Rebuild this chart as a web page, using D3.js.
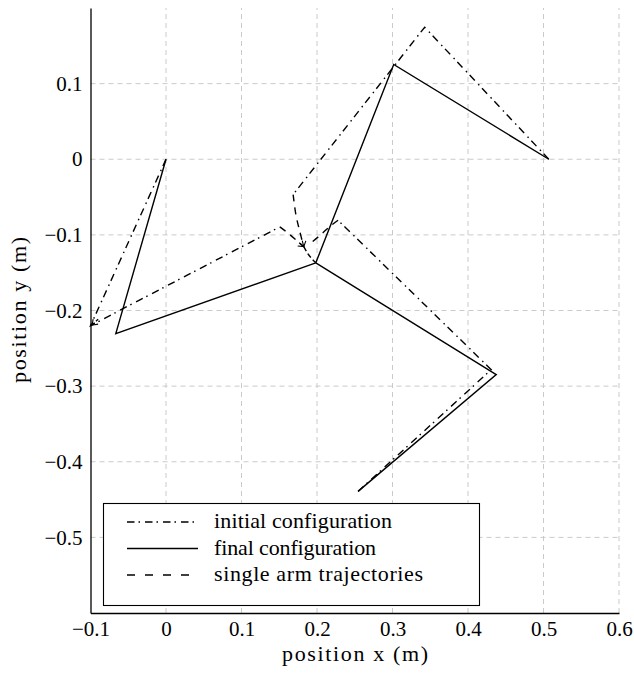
<!DOCTYPE html>
<meta charset="utf-8">
<html>
<head><title>Arm configurations</title></head>
<style>
body { margin: 0; background: #fff; }
text { font-family: "Liberation Serif", "DejaVu Serif", serif; fill: #000; }
</style>
<body>
<svg id="chart" width="634" height="673"></svg>
<script src="https://d3js.org/d3.v7.min.js"></script>
<script>

// arm bases and joints (m)
var bases = [[0, 0], [0.507, 0], [0.2544, -0.4392]];
var initialElbows = [[-0.0999, -0.22], [0.3426, 0.1746], [0.4308, -0.2782]];
var initialEnds = [[0.1508, -0.0894], [0.1684, -0.0467], [0.2279, -0.0807]];
var finalElbows = [[-0.0665, -0.2306], [0.3016, 0.1253], [0.4374, -0.2847]];
var finalEnd = [0.1984, -0.137];

// end effector paths, up to the arrow
var traj1 = [[0.1508, -0.0894], [0.1640, -0.0996], [0.1746, -0.1088], [0.1825, -0.1155]];
var traj2 = [[0.1684, -0.0467], [0.1720, -0.0731], [0.1772, -0.0956], [0.1825, -0.1155]];
var traj3 = [[0.2279, -0.0807], [0.2169, -0.0890], [0.2037, -0.1009], [0.1892, -0.1128]];
// common last bit into the final grasp point
var trajJoin = [[0.1825, -0.1155], [0.1878, -0.1247], [0.1931, -0.1314], [0.1984, -0.137]];
// little arrow at the first elbow
var elbowArrow = [[-0.0899, -0.2114], [-0.0979, -0.2194]];

var xTicks = [-0.1, 0, 0.1, 0.2, 0.3, 0.4, 0.5, 0.6];
var yTicks = [-0.5, -0.4, -0.3, -0.2, -0.1, 0, 0.1];
var legendLabels = ["initial configuration", "final configuration", "single arm trajectories"];
var legendWidths = [178, 162, 209];
var legendDash = ["7.5,4,1.5,5", null, "8,10"];

var svg = d3.select("#chart");

var x = d3.scaleLinear().domain([-0.1, 0.6]).range([90.5, 619]);
var y = d3.scaleLinear().domain([-0.6, 0.2]).range([613, 8]);

var fmt = function(d) {
  if (d === 0) return "0";
  return (d < 0 ? "\u2212" : "") + Math.abs(d).toFixed(1);
};

// grid
var grid = svg.append("g").attr("stroke", "#cacaca").attr("stroke-width", 1)
  .attr("stroke-dasharray", "5,4");
grid.selectAll("line.v").data(xTicks.slice(1)).enter().append("line")
  .attr("x1", d => x(d)).attr("x2", d => x(d))
  .attr("y1", y(-0.6)).attr("y2", y(0.2));
grid.selectAll("line.h").data(yTicks).enter().append("line")
  .attr("y1", d => y(d)).attr("y2", d => y(d))
  .attr("x1", x(-0.1)).attr("x2", x(0.6));

// axes
var xAxis = d3.axisBottom(x).tickValues(xTicks).tickFormat(fmt).tickSize(0).tickPadding(8);
var yAxis = d3.axisLeft(y).tickValues(yTicks).tickFormat(fmt).tickSize(0).tickPadding(8);

var gx = svg.append("g").attr("transform", "translate(0," + y(-0.6) + ")").call(xAxis);
var gy = svg.append("g").attr("transform", "translate(" + x(-0.1) + ",0)").call(yAxis);
[gx, gy].forEach(function(g) {
  g.attr("font-family", null);
  g.select(".domain").attr("stroke", "#000").attr("stroke-width", 1.3);
  g.selectAll("text").attr("font-size", 21).attr("fill", "#000");
});

svg.append("text").attr("x", 355).attr("y", 661).attr("text-anchor", "middle")
  .attr("font-size", 22).attr("textLength", 146).attr("lengthAdjust", "spacing")
  .text("position x (m)");
svg.append("text").attr("transform", "translate(26,310) rotate(-90)").attr("text-anchor", "middle")
  .attr("font-size", 22).attr("textLength", 146).attr("lengthAdjust", "spacing")
  .text("position y (m)");

// arrow head
svg.append("defs").append("marker")
  .attr("id", "arr").attr("markerUnits", "userSpaceOnUse")
  .attr("viewBox", "-6 -5 8 10").attr("refX", 0).attr("refY", 0)
  .attr("markerWidth", 8).attr("markerHeight", 10).attr("orient", "auto")
  .append("path").attr("d", "M-5,-3.5 L0,0 L-5,3.5")
  .attr("fill", "none").attr("stroke", "#000").attr("stroke-width", 1.1);

var line = d3.line().x(d => x(d[0])).y(d => y(d[1]));
var smooth = d3.line().x(d => x(d[0])).y(d => y(d[1])).curve(d3.curveCatmullRom);

var arms = svg.append("g").attr("fill", "none").attr("stroke", "#000").attr("stroke-width", 1.4);

// initial configuration
bases.forEach(function(b, i) {
  arms.append("path").attr("d", line([b, initialElbows[i], initialEnds[i]]))
    .attr("stroke-dasharray", legendDash[0]);
});

// final configuration
bases.forEach(function(b, i) {
  arms.append("path").attr("d", line([b, finalElbows[i], finalEnd]));
});

// trajectories
[traj1, traj2, traj3].forEach(function(t, i) {
  arms.append("path").attr("d", smooth(t))
    .attr("stroke-dasharray", "7,6")
    .attr("marker-end", i < 2 ? "url(#arr)" : null);
});
arms.append("path").attr("d", smooth(trajJoin)).attr("stroke-dasharray", "5,3");
arms.append("path").attr("d", line(elbowArrow)).attr("stroke-dasharray", "3,2")
  .attr("marker-end", "url(#arr)");

// legend
var lg = svg.append("g");
lg.append("rect").attr("x", 103.5).attr("y", 503.5).attr("width", 376).attr("height", 102)
  .attr("fill", "#fff").attr("stroke", "#000").attr("stroke-width", 1.1);
legendLabels.forEach(function(lab, i) {
  var cy = 522 + i * 26.5;
  lg.append("line").attr("x1", 127).attr("x2", 198).attr("y1", cy).attr("y2", cy)
    .attr("stroke", "#000").attr("stroke-width", 1.4)
    .attr("stroke-dasharray", legendDash[i]);
  lg.append("text").attr("x", 214).attr("y", cy + 6).attr("font-size", 22)
    .attr("textLength", legendWidths[i]).attr("lengthAdjust", "spacing").text(lab);
});

</script>
</body>
</html>
